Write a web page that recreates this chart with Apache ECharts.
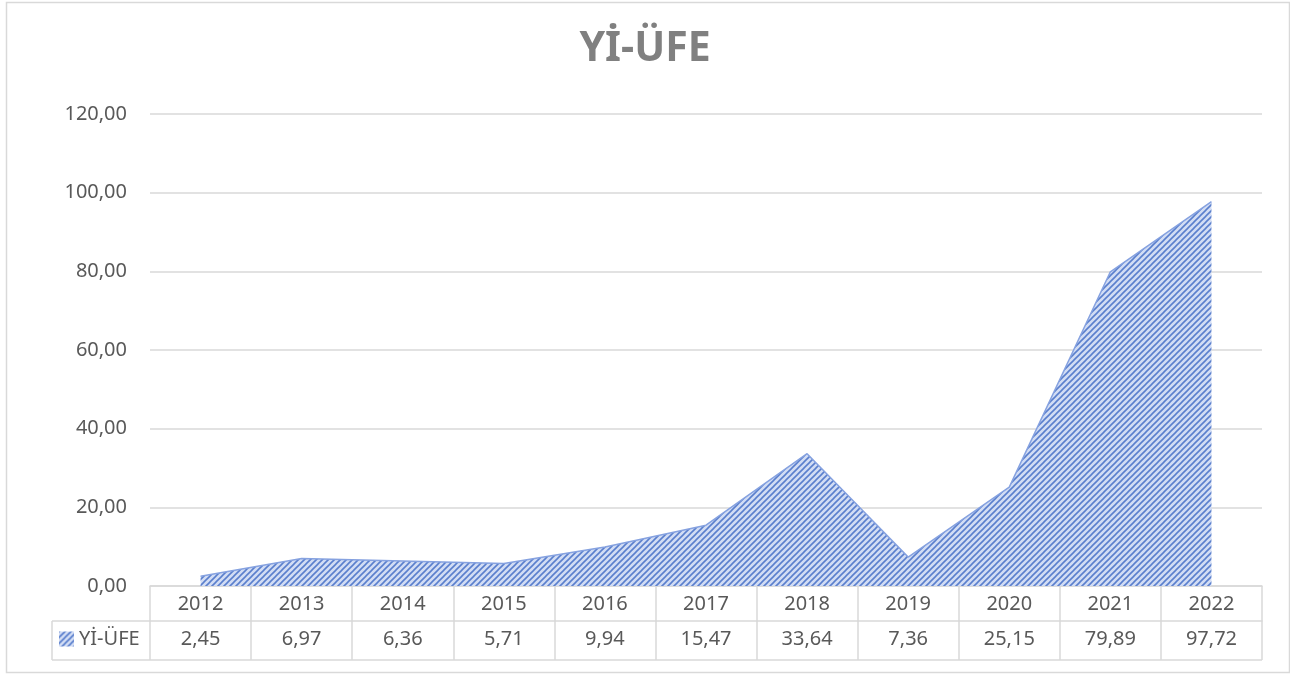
<!DOCTYPE html>
<html>
<head>
<meta charset="utf-8">
<script src="https://cdn.jsdelivr.net/npm/echarts@6/dist/echarts.min.js"></script>
<style>
  html, body { margin: 0; padding: 0; background: #fff; }
  #chart { width: 1290px; height: 675px; }
</style>
</head>
<body>
<div id="chart"></div>
<script>
const YEARS = ['2012', '2013', '2014', '2015', '2016', '2017', '2018', '2019', '2020', '2021', '2022'];
const YI_UFE = [2.45, 6.97, 6.36, 5.71, 9.94, 15.47, 33.64, 7.36, 25.15, 79.89, 97.72];
const SERIES_NAME = 'Yİ-ÜFE';

(() => {
    const FONT = '"Noto Sans", sans-serif';
    const TEXT = '#595959';
    const BORDER = '#d9d9d9';

    // plot box
    const LEFT = 150, RIGHT = 1262, TOP = 114, BOTTOM = 586;
    const ROW1 = 621, ROW2 = 660, CELL_LEFT = 52;

    const fmt = v => v.toFixed(2).replace('.', ',');

    // Excel "dark upward diagonal" fill
    function hatch() {
        const s = 6;
        const c = document.createElement('canvas');
        c.width = s; c.height = s;
        const ctx = c.getContext('2d');
        ctx.fillStyle = '#d2ddf4';
        ctx.fillRect(0, 0, s, s);
        ctx.strokeStyle = '#5a7fcd';
        ctx.lineWidth = 1.6;
        ctx.beginPath();
        ctx.moveTo(-1, s + 1); ctx.lineTo(s + 1, -1);
        ctx.moveTo(-1, 1); ctx.lineTo(1, -1);
        ctx.moveTo(s - 1, s + 1); ctx.lineTo(s + 1, s - 1);
        ctx.stroke();
        return { image: c, repeat: 'repeat' };
    }
    const PATTERN = hatch();

    const chart = echarts.init(document.getElementById('chart'), null, { renderer: 'canvas' });

    const option = {
        animation: false,
        textStyle: { fontFamily: FONT },
        title: {
            text: SERIES_NAME,
            left: 'center',
            top: 24,
            textStyle: { fontFamily: FONT, fontSize: 41, fontWeight: 'bold', color: '#808080' }
        },
        legend: {
            left: CELL_LEFT + 7,
            top: 629,
            padding: 0,
            icon: 'rect',
            itemWidth: 15,
            itemHeight: 15,
            itemGap: 4,
            textStyle: { fontFamily: FONT, fontSize: 20, color: TEXT, padding: [0, 0, 0, 0] },
            data: [{ name: SERIES_NAME, itemStyle: { color: PATTERN } }]
        },
        grid: { left: LEFT, right: 1290 - RIGHT, top: TOP, bottom: 675 - BOTTOM },
        xAxis: [
            {
                type: 'category',
                data: YEARS,
                position: 'bottom',
                boundaryGap: true,
                axisLine: { show: true, lineStyle: { color: BORDER, width: 1.5 } },
                axisTick: { show: true, length: ROW2 - BOTTOM, lineStyle: { color: BORDER, width: 1.5 } },
                axisLabel: { fontFamily: FONT, fontSize: 20, color: TEXT, margin: 8 }
            },
            {
                type: 'category',
                data: YI_UFE.map(fmt),
                position: 'bottom',
                offset: ROW1 - BOTTOM,
                boundaryGap: true,
                axisLine: { show: true, lineStyle: { color: BORDER, width: 1.5 } },
                axisTick: { show: false },
                axisLabel: { fontFamily: FONT, fontSize: 20, color: TEXT, margin: 8 }
            }
        ],
        yAxis: {
            type: 'value',
            min: 0,
            max: 120,
            interval: 20,
            axisLine: { show: false },
            axisTick: { show: false },
            splitLine: { lineStyle: { color: BORDER, width: 1.5 } },
            axisLabel: { fontFamily: FONT, fontSize: 20, color: TEXT, margin: 23, formatter: fmt }
        },
        series: [{
            name: SERIES_NAME,
            type: 'line',
            xAxisIndex: 0,
            data: YI_UFE,
            symbol: 'none',
            lineStyle: { color: '#86a2e0', width: 1.5 },
            itemStyle: { color: PATTERN },
            areaStyle: { color: PATTERN, opacity: 1 }
        }],
        graphic: [
            // outer chart border
            { type: 'rect', shape: { x: 6.5, y: 2.5, width: 1283, height: 670 },
              style: { fill: null, stroke: BORDER, lineWidth: 1.5 }, silent: true },
            // data table: legend cell and bottom rule
            { type: 'line', shape: { x1: CELL_LEFT, y1: ROW1, x2: LEFT, y2: ROW1 },
              style: { stroke: BORDER, lineWidth: 1.5 } },
            { type: 'line', shape: { x1: CELL_LEFT, y1: ROW2, x2: RIGHT, y2: ROW2 },
              style: { stroke: BORDER, lineWidth: 1.5 } },
            { type: 'line', shape: { x1: CELL_LEFT, y1: ROW1, x2: CELL_LEFT, y2: ROW2 },
              style: { stroke: BORDER, lineWidth: 1.5 } }
        ]
    };

    chart.setOption(option);
})();
</script>
</body>
</html>
